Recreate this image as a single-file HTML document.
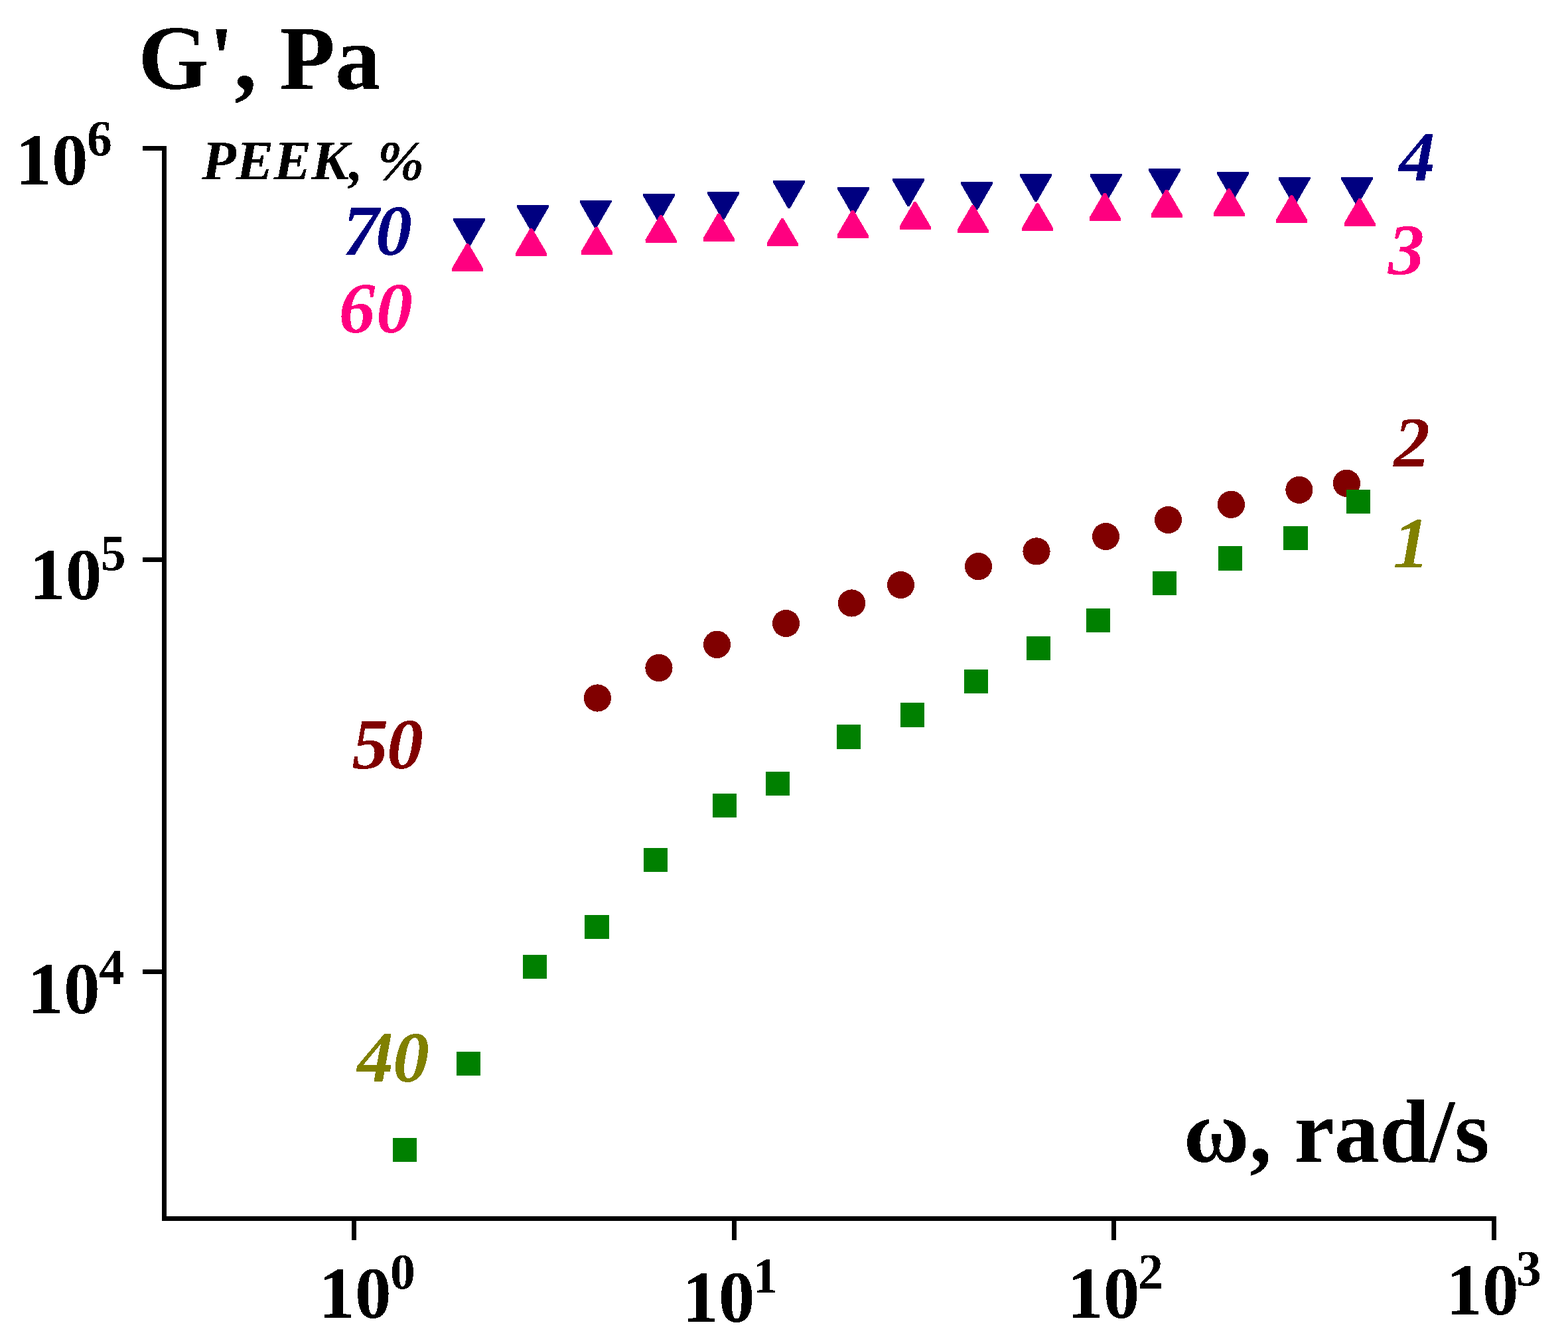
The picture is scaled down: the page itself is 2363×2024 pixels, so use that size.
<!DOCTYPE html>
<html><head><meta charset="utf-8"><title>G' vs omega</title>
<style>
html,body{margin:0;padding:0;background:#fff;}
body{width:2363px;height:2024px;overflow:hidden;}
svg{display:block;}
text{font-family:"Liberation Serif","Times New Roman",serif;font-kerning:none;white-space:pre;}
.b{font-weight:bold;}
.bi{font-weight:bold;font-style:italic;}
</style></head>
<body>
<svg width="2363" height="2024" viewBox="0 0 2363 2024">
<defs><filter id="al" x="0" y="0" width="1" height="1" color-interpolation-filters="sRGB"><feComponentTransfer><feFuncA type="discrete" tableValues="0 1"/></feComponentTransfer></filter></defs>
<rect width="2363" height="2024" fill="#fff"/>
<g fill="#000">
<rect x="244" y="220" width="7" height="1620"/>
<rect x="244" y="1833" width="2011" height="7"/>
<rect x="215" y="220" width="36" height="7"/>
<rect x="215" y="840" width="36" height="7"/>
<rect x="215" y="1461" width="36" height="7"/>
<rect x="530" y="1833" width="7" height="36"/>
<rect x="1103" y="1833" width="7" height="36"/>
<rect x="1675" y="1833" width="7" height="36"/>
<rect x="2248" y="1833" width="7" height="36"/>
</g>
<g shape-rendering="crispEdges">
<path fill="#000080" d="M683 329H731V332L708.5 371H705.5L683 332ZM779 309H827V312L804.5 351H801.5L779 312ZM873.5 301.7H921.5V304.7L899 343.7H896L873.5 304.7ZM969 292H1017V295L994.5 334H991.5L969 295ZM1066 289H1114V292L1091.5 331H1088.5L1066 292ZM1165 272H1213V275L1190.5 314H1187.5L1165 275ZM1262 282H1310V285L1287.5 324H1284.5L1262 285ZM1345 269H1393V272L1370.5 311H1367.5L1345 272ZM1448 274H1496V277L1473.5 316H1470.5L1448 277ZM1537 262H1585V265L1562.5 304H1559.5L1537 265ZM1642.5 262H1690.5V265L1668 304H1665L1642.5 265ZM1731 254H1779V257L1756.5 296H1753.5L1731 257ZM1834 259H1882V262L1859.5 301H1856.5L1834 262ZM1926.5 266.9H1974.5V269.9L1952 308.9H1949L1926.5 269.9ZM2021 266.9H2069V269.9L2046.5 308.9H2043.5L2021 269.9Z"/>
<path fill="#FF0080" d="M681 408.9V404.4L703 366.9H706L728 404.4V408.9ZM777 385.9V381.4L799 343.9H802L824 381.4V385.9ZM875.5 383.7V379.2L897.5 341.7H900.5L922.5 379.2V383.7ZM972.5 366V361.5L994.5 324H997.5L1019.5 361.5V366ZM1059.5 363.7V359.2L1081.5 321.7H1084.5L1106.5 359.2V363.7ZM1155.5 370.9V366.4L1177.5 328.9H1180.5L1202.5 366.4V370.9ZM1261.5 358.6V354.1L1283.5 316.6H1286.5L1308.5 354.1V358.6ZM1355.5 345.8V341.3L1377.5 303.8H1380.5L1402.5 341.3V345.8ZM1442.5 350.9V346.4L1464.5 308.9H1467.5L1489.5 346.4V350.9ZM1540 347.9V343.4L1562 305.9H1565L1587 343.4V347.9ZM1641.5 332.7V328.2L1663.5 290.7H1666.5L1688.5 328.2V332.7ZM1734.5 327.7V323.2L1756.5 285.7H1759.5L1781.5 323.2V327.7ZM1828.5 325.9V321.4L1850.5 283.9H1853.5L1875.5 321.4V325.9ZM1923 335.8V331.3L1945 293.8H1948L1970 331.3V335.8ZM2025.5 340.9V336.4L2047.5 298.9H2050.5L2072.5 336.4V340.9Z"/>
<g fill="#800000">
<circle cx="900.4" cy="1052" r="20.6"/>
<circle cx="993" cy="1006.5" r="20.6"/>
<circle cx="1080.5" cy="971.4" r="20.6"/>
<circle cx="1184.5" cy="939.5" r="20.6"/>
<circle cx="1283.5" cy="909" r="20.6"/>
<circle cx="1357.5" cy="881.5" r="20.6"/>
<circle cx="1474.5" cy="853.6" r="20.6"/>
<circle cx="1562" cy="830.9" r="20.6"/>
<circle cx="1666.5" cy="808.5" r="20.6"/>
<circle cx="1760.5" cy="783.5" r="20.6"/>
<circle cx="1855.4" cy="760.3" r="20.6"/>
<circle cx="1957.9" cy="738.3" r="20.6"/>
<circle cx="2029.4" cy="728.4" r="20.6"/>
</g>
<path fill="#008000" d="M592 1715H628V1751H592ZM688 1585H724V1621H688ZM788 1439H824V1475H788ZM881 1379H918V1415H881ZM970 1278H1006V1314H970ZM1074 1196H1110V1232H1074ZM1154 1163H1190V1199H1154ZM1261 1092H1297V1129H1261ZM1357 1059H1393V1096H1357ZM1453 1009H1489V1045H1453ZM1547 959H1583V995H1547ZM1637 917H1673V953H1637ZM1737 861H1773V897H1737ZM1836 823H1872V860H1836ZM1934 793H1971V829H1934ZM2029 738H2065V774H2029Z"/>
</g>
<g filter="url(#al)">
<text class="b" x="208.21" y="133.7" font-size="137" fill="#000">G&#39;, Pa</text>
<text class="b" x="1783.4" y="1750.5" font-size="135.8" fill="#000">ω, rad/s</text>
<text class="bi" x="303.94" y="270.7" font-size="85" fill="#000">PEEK, %</text>
<text class="b" x="23.13" y="277.7" font-size="109.5" fill="#000">10</text>
<text class="b" x="44.03" y="902.9" font-size="109.5" fill="#000">10</text>
<text class="b" x="41.23" y="1527" font-size="109.5" fill="#000">10</text>
<text class="b" x="480.13" y="1985.8" font-size="109.5" fill="#000">10</text>
<text class="b" x="1028.03" y="1991.9" font-size="109.5" fill="#000">10</text>
<text class="b" x="1608.03" y="1985.8" font-size="109.5" fill="#000">10</text>
<text class="b" x="2179.13" y="1980.8" font-size="109.5" fill="#000">10</text>
<text class="b" x="130.94" y="234" font-size="75.7" fill="#000">6</text>
<text class="b" x="151.85" y="859.2" font-size="75.7" fill="#000">5</text>
<text class="b" x="149.26" y="1482.8" font-size="75.7" fill="#000">4</text>
<text class="b" x="588.08" y="1942.3" font-size="75.7" fill="#000">0</text>
<text class="b" x="1134.5" y="1948" font-size="75.7" fill="#000">1</text>
<text class="b" x="1715.01" y="1942" font-size="75.7" fill="#000">2</text>
<text class="b" x="2284.95" y="1937.1" font-size="75.7" fill="#000">3</text>
<text class="bi" y="383.9" font-size="109" fill="#000080"><tspan x="516.55">7</tspan><tspan x="566.32">0</tspan></text>
<text class="bi" y="500.9" font-size="109" fill="#FF0080"><tspan x="510.69">6</tspan><tspan x="567.32">0</tspan></text>
<text class="bi" y="1157.7" font-size="109" fill="#800000"><tspan x="530.45">5</tspan><tspan x="583.22">0</tspan></text>
<text class="bi" y="1629.8" font-size="109" fill="#808000"><tspan x="538.25">4</tspan><tspan x="592.22">0</tspan></text>
<text class="bi" x="2108.25" y="273" font-size="109" fill="#000080">4</text>
<text class="bi" x="2092.04" y="413" font-size="109" fill="#FF0080">3</text>
<text class="bi" x="2100.57" y="702.9" font-size="109" fill="#800000">2</text>
<text class="bi" x="2099.38" y="854.7" font-size="109" fill="#808000">1</text>
</g>
</svg>
</body></html>
